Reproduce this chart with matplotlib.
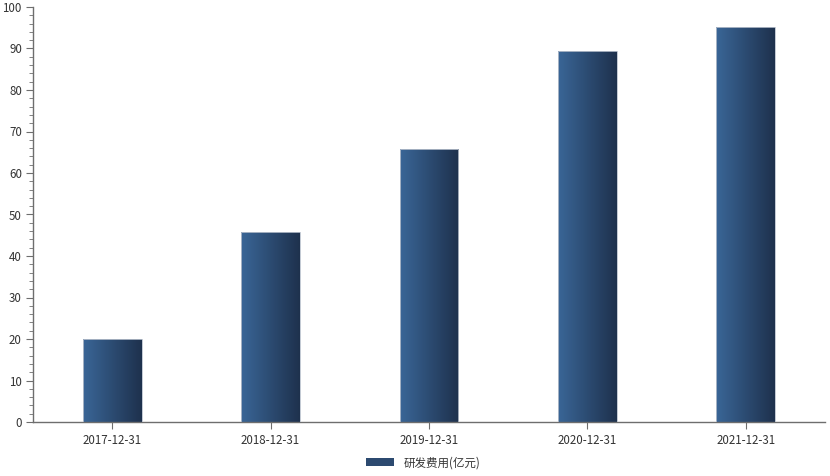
import numpy as np
import matplotlib.pyplot as plt
from matplotlib.colors import LinearSegmentedColormap
from matplotlib.patches import Rectangle
from matplotlib.ticker import MultipleLocator

plt.rcParams['font.family'] = ['Noto Sans CJK SC', 'DejaVu Sans']

dates = ['2017-12-31', '2018-12-31', '2019-12-31', '2020-12-31', '2021-12-31']
rd_cost = [20.0, 45.9, 65.8, 89.4, 95.2]
series_name = '研发费用(亿元)'

cmap = LinearSegmentedColormap.from_list('bar', ['#3a6697', '#1e314d'])

fig = plt.figure(figsize=(8.3, 4.76), dpi=100)
ax = fig.add_axes([33 / 830, 54 / 476, 792 / 830, 415 / 476])

x = np.arange(len(dates))
width = 0.37
grad = np.linspace(0, 1, 256).reshape(1, -1)
for xi, v in zip(x, rd_cost):
    left = xi - width / 2
    im = ax.imshow(grad, cmap=cmap, aspect='auto', extent=[left, left + width, 0, v],
                   zorder=2, interpolation='bilinear')
    rect = Rectangle((left, 0), width, v, facecolor='none', edgecolor='#b8c0cc',
                     linewidth=0.6, zorder=3)
    ax.add_patch(rect)
    im.set_clip_path(rect)

ax.set_xlim(-0.5, len(dates) - 0.5)
ax.set_ylim(0, 100)
ax.set_xticks(x)
ax.set_xticklabels(dates)
ax.yaxis.set_major_locator(MultipleLocator(10))
ax.yaxis.set_minor_locator(MultipleLocator(2))

for s in ['top', 'right']:
    ax.spines[s].set_visible(False)
for s in ['left', 'bottom']:
    ax.spines[s].set_color('#6e6e6e')
    ax.spines[s].set_linewidth(1.0)

ax.tick_params(axis='both', which='major', length=5, color='#6e6e6e', labelsize=8.3,
               labelcolor='#333333', pad=3)
ax.tick_params(axis='y', which='minor', length=3, color='#6e6e6e')
ax.tick_params(axis='x', pad=4)

handle = Rectangle((0, 0), 1, 1, facecolor='#2c4a70', edgecolor='none')
fig.legend([handle], [series_name], loc='center', bbox_to_anchor=(0.51, 0.028),
           frameon=False, fontsize=8.3, handlelength=2.4, handleheight=0.6,
           handletextpad=0.8, labelcolor='#333333')

fig.savefig('out.png', dpi=100)
